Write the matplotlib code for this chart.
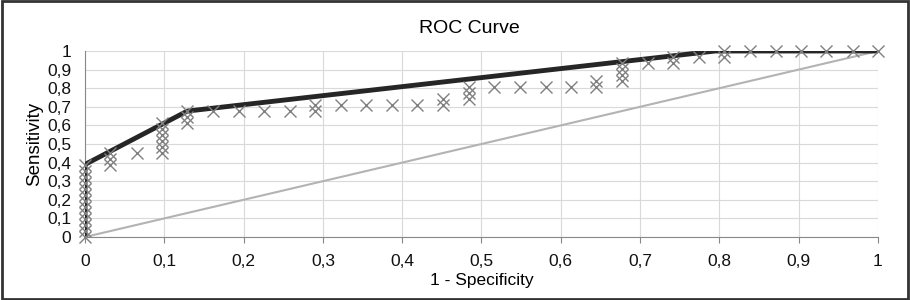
import numpy as np
import matplotlib.pyplot as plt
from matplotlib.patches import Rectangle

plt.rcParams['font.family'] = ['Liberation Sans', 'DejaVu Sans']

# observed points (1 - specificity, sensitivity)
fpr = [0]*13 + [0.032]*3 + [0.065] + [0.097]*6 + [0.129]*3 + \
      [0.161, 0.194, 0.226, 0.258] + [0.29]*2 + [0.323, 0.355, 0.387, 0.419] + \
      [0.452]*2 + [0.484]*3 + [0.516, 0.548, 0.581, 0.613] + [0.645]*2 + \
      [0.677]*4 + [0.71] + [0.742]*2 + [0.774] + [0.806]*2 + \
      [0.839, 0.871, 0.903, 0.935, 0.968, 1.0]
tpr = [0, 0.032, 0.065, 0.097, 0.129, 0.161, 0.194, 0.226, 0.258, 0.29, 0.323, 0.355, 0.387] + \
      [0.387, 0.419, 0.452] + [0.452] + [0.452, 0.484, 0.516, 0.548, 0.581, 0.613] + \
      [0.613, 0.645, 0.677] + [0.677, 0.677, 0.677, 0.677] + [0.677, 0.71] + \
      [0.71, 0.71, 0.71, 0.71] + [0.71, 0.742] + [0.742, 0.774, 0.806] + \
      [0.806, 0.806, 0.806, 0.806] + [0.806, 0.839] + [0.839, 0.871, 0.903, 0.935] + \
      [0.935] + [0.935, 0.968] + [0.968] + [0.968, 1.0] + [1.0]*6

# hull line
hull_x = [0, 0, 0.129, 0.795, 1.0]
hull_y = [0, 0.39, 0.677, 1.0, 1.0]

fig = plt.figure(figsize=(9.1, 3.0), dpi=100)
ax = fig.add_axes([0.0934, 0.21, 0.8714, 0.62])

ax.plot([0, 1], [0, 1], color='#b3b3b3', lw=1.5, zorder=2)
ax.plot(hull_x, hull_y, color='#262626', lw=3.5, zorder=3, solid_joinstyle='round')
ax.plot(fpr, tpr, 'x', color='#808080', ms=8, mew=1.0, zorder=4, clip_on=False)

ax.set_xlim(0, 1)
ax.set_ylim(0, 1)
ticks = np.round(np.arange(0, 1.01, 0.1), 1)
labels = ['0' if t == 0 else ('1' if t == 1 else str(t).replace('.', ',')) for t in ticks]
ax.set_xticks(ticks)
ax.set_xticklabels(labels)
ax.set_yticks(ticks)
ax.set_yticklabels(labels)
ax.tick_params(axis='x', direction='out', length=4, pad=8, labelsize=12.5, color='#888888')
ax.tick_params(axis='y', length=0, pad=10, labelsize=12.5)
for lab in ax.get_xticklabels() + ax.get_yticklabels():
    lab.set_color('#111111')
ax.grid(True, color='#d9d9d9', lw=0.8)
ax.set_axisbelow(True)
for s in ['top', 'right']:
    ax.spines[s].set_visible(False)
ax.spines['left'].set_color('#888888')
ax.spines['bottom'].set_color('#888888')

ax.set_xlabel('1 - Specificity', fontsize=12.5, labelpad=3)
ax.set_ylabel('Sensitivity', fontsize=13.5, labelpad=3)
fig.text(0.516, 0.89, 'ROC Curve', ha='center', fontsize=14)

fig.patches.append(Rectangle((0.002, 0.003), 0.996, 0.994, transform=fig.transFigure,
                             fill=False, edgecolor='#333333', lw=2))

fig.savefig('out.png', dpi=100)
